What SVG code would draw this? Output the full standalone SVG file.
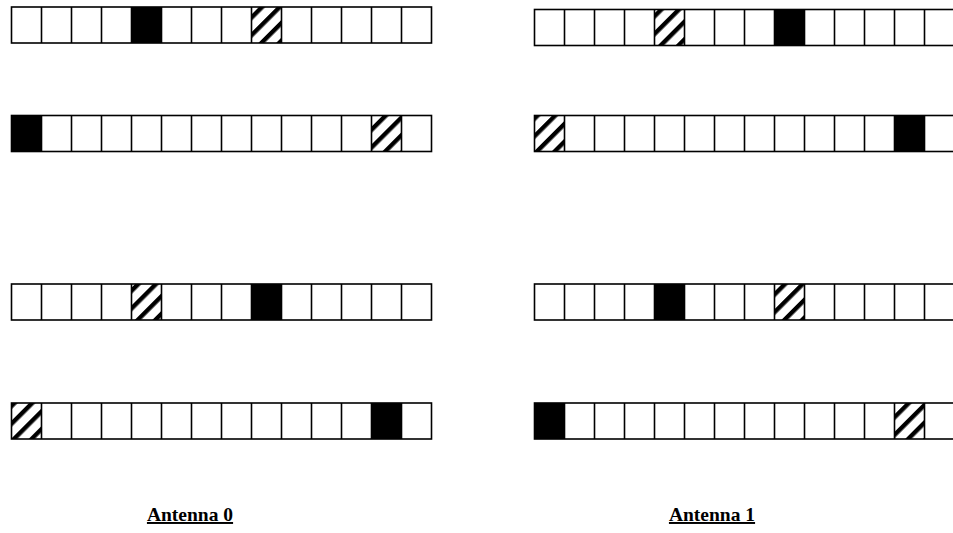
<svg xmlns="http://www.w3.org/2000/svg" xmlns:xlink="http://www.w3.org/1999/xlink" width="953" height="533" viewBox="0 0 953 533">
<style>
.grid{fill:none;stroke:#000;stroke-width:1.6}
.blk{fill:#000}
.hat{fill:url(#hatch)}
.lbl{font-family:"Liberation Serif","Times New Roman",serif;font-weight:bold;font-size:19.5px;text-decoration:underline;fill:#000;text-anchor:middle}
</style>
<defs>
<pattern id="hatch" patternUnits="userSpaceOnUse" width="12.5" height="12.5" patternTransform="rotate(45)">
<rect x="0" y="0" width="12.5" height="12.5" fill="#fff"/>
<rect x="0" y="0" width="4.4" height="12.5" fill="#000"/>
</pattern>
<g id="row">
<rect class="grid" x="0" y="0" width="420" height="36"/>
<path class="grid" d="M30 0v36M60 0v36M90 0v36M120 0v36M150 0v36M180 0v36M210 0v36M240 0v36M270 0v36M300 0v36M330 0v36M360 0v36M390 0v36"/>
</g>
</defs>
<rect width="953" height="533" fill="#fff"/>
<g id="antenna0">
<g id="a0-row1" transform="translate(11.5,7)">
<rect class="blk" x="120" y="0" width="30" height="36"/>
<rect class="hat" x="240" y="0" width="30" height="36"/>
<use xlink:href="#row"/>
</g>
<g id="a0-row2" transform="translate(11.5,115.5)">
<rect class="blk" x="0" y="0" width="30" height="36"/>
<rect class="hat" x="360" y="0" width="30" height="36"/>
<use xlink:href="#row"/>
</g>
<g id="a0-row3" transform="translate(11.5,284)">
<rect class="hat" x="120" y="0" width="30" height="36"/>
<rect class="blk" x="240" y="0" width="30" height="36"/>
<use xlink:href="#row"/>
</g>
<g id="a0-row4" transform="translate(11.5,403)">
<rect class="hat" x="0" y="0" width="30" height="36"/>
<rect class="blk" x="360" y="0" width="30" height="36"/>
<use xlink:href="#row"/>
</g>
</g>
<g id="antenna1">
<g id="a1-row1" transform="translate(534.5,9.5)">
<rect class="hat" x="120" y="0" width="30" height="36"/>
<rect class="blk" x="240" y="0" width="30" height="36"/>
<use xlink:href="#row"/>
</g>
<g id="a1-row2" transform="translate(534.5,115.5)">
<rect class="hat" x="0" y="0" width="30" height="36"/>
<rect class="blk" x="360" y="0" width="30" height="36"/>
<use xlink:href="#row"/>
</g>
<g id="a1-row3" transform="translate(534.5,284)">
<rect class="blk" x="120" y="0" width="30" height="36"/>
<rect class="hat" x="240" y="0" width="30" height="36"/>
<use xlink:href="#row"/>
</g>
<g id="a1-row4" transform="translate(534.5,403)">
<rect class="blk" x="0" y="0" width="30" height="36"/>
<rect class="hat" x="360" y="0" width="30" height="36"/>
<use xlink:href="#row"/>
</g>
</g>
<g id="connectors"/>
<g id="labels">
<text id="label-a0" class="lbl" x="190" y="521">Antenna 0</text>
<text id="label-a1" class="lbl" x="712" y="521">Antenna 1</text>
</g>
</svg>
